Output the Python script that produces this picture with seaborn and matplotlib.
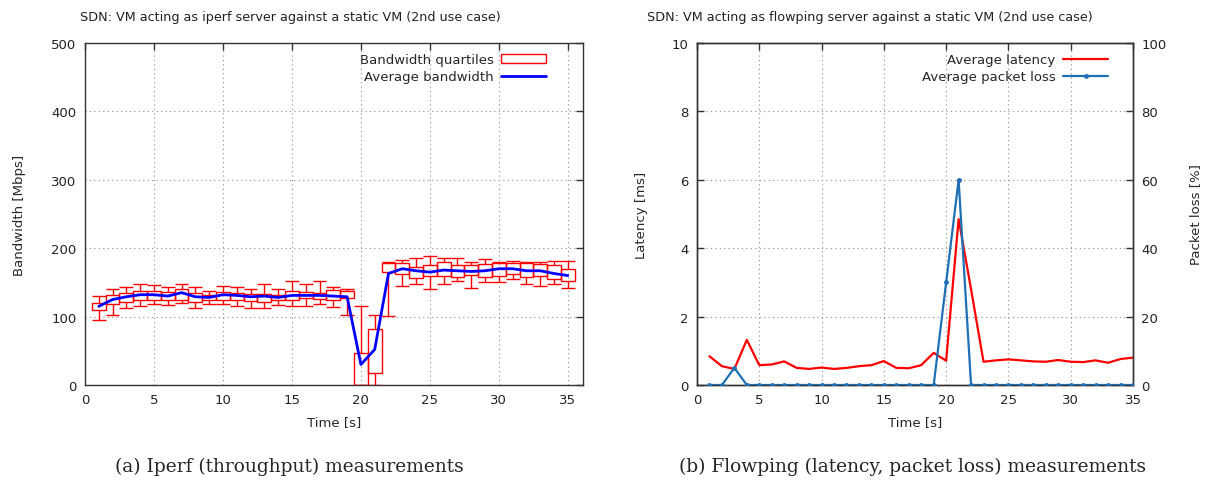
#---------------------------------------------------------------------#
# SDN use case 2: iperf bandwidth + flowping latency / packet loss
#---------------------------------------------------------------------#
import matplotlib
matplotlib.use("Agg")
import matplotlib.pyplot as plt
from matplotlib.patches import Patch
from matplotlib.lines import Line2D
import seaborn as sns
import pandas as pd

# iperf: time [s], quartiles and whisker ends [Mbps], average [Mbps]
time_bw = list(range(1, 36))
bw_min = [95, 103, 112, 115, 118, 117, 120, 113, 118, 118, 115, 112, 113, 117, 115,
          115, 118, 114, 102, 0, 0, 101, 145, 147, 140, 148, 152, 142, 150, 150,
          155, 148, 145, 148, 142]
bw_q1 = [110, 118, 122, 125, 125, 124, 125, 122, 124, 125, 124, 123, 122, 124, 125,
         127, 126, 124, 127, 0, 18, 165, 162, 157, 160, 160, 158, 161, 158, 160,
         162, 158, 160, 155, 152]
bw_q3 = [120, 132, 135, 138, 138, 136, 140, 135, 132, 136, 135, 133, 133, 132, 137,
         136, 135, 139, 137, 47, 82, 178, 178, 172, 176, 180, 176, 175, 177, 178,
         178, 178, 177, 175, 170]
bw_max = [130, 140, 143, 147, 146, 143, 148, 143, 138, 145, 143, 140, 147, 140, 152,
          148, 152, 143, 141, 115, 102, 180, 183, 186, 189, 186, 186, 180, 184, 180,
          182, 180, 180, 182, 182]
bw_avg = [115, 125, 129, 132, 132, 130, 135, 129, 128, 132, 131, 129, 130, 128, 131,
          131, 131, 130, 129, 30, 52, 163, 170, 167, 165, 168, 167, 166, 167, 170,
          170, 167, 167, 163, 160]

# flowping: time [s], average latency [ms], packet loss [%]
time_fp = list(range(1, 36))
latency = [0.84, 0.55, 0.47, 1.32, 0.58, 0.60, 0.69, 0.50, 0.47, 0.51, 0.47, 0.50,
           0.55, 0.58, 0.70, 0.50, 0.49, 0.58, 0.94, 0.71, 4.85, 2.80, 0.68, 0.72,
           0.75, 0.72, 0.69, 0.68, 0.73, 0.68, 0.67, 0.72, 0.65, 0.76, 0.80]
loss = [0, 0, 5, 0, 0, 0, 0, 0, 0, 0, 0, 0, 0, 0, 0, 0, 0, 0, 0, 30, 60, 0, 0, 0,
        0, 0, 0, 0, 0, 0, 0, 0, 0, 0, 0]

bw = pd.DataFrame({"time": time_bw, "min": bw_min, "q1": bw_q1, "q3": bw_q3,
                   "max": bw_max, "avg": bw_avg})
fp = pd.DataFrame({"time": time_fp, "latency": latency, "loss": loss})

sns.set_style("white")
plt.rcParams["font.family"] = ["DejaVu Sans"]
FS = 9.5
border = "#333333"
grid_kw = dict(color="#8c8c8c", linestyle=(0, (1, 3)), linewidth=0.8)

W, H = 1207, 481
fig = plt.figure(figsize=(W / 100, H / 100), dpi=100)
ax1 = fig.add_axes([85 / W, 1 - 386 / H, (583 - 85) / W, (386 - 44) / H])
ax2 = fig.add_axes([697 / W, 1 - 386 / H, (1133 - 697) / W, (386 - 44) / H])
ax3 = ax2.twinx()

def style_axis(ax):
    for s in ax.spines.values():
        s.set_color(border)
        s.set_linewidth(1.0)
    ax.tick_params(direction="in", length=5, width=1, color=border,
                   labelsize=FS, labelcolor="#222222", pad=6)

# ---- left: iperf bandwidth ----
red = "#ff0000"
ax1.bar(bw["time"], bw["q3"] - bw["q1"], bottom=bw["q1"], width=1.0,
        fill=False, edgecolor=red, linewidth=1.0, zorder=3)
ax1.vlines(bw["time"], bw["min"], bw["q1"], color=red, linewidth=1.0, zorder=3)
ax1.vlines(bw["time"], bw["q3"], bw["max"], color=red, linewidth=1.0, zorder=3)
ax1.hlines(bw["min"], bw["time"] - 0.5, bw["time"] + 0.5, color=red, linewidth=1.0, zorder=3)
ax1.hlines(bw["max"], bw["time"] - 0.5, bw["time"] + 0.5, color=red, linewidth=1.0, zorder=3)
sns.lineplot(data=bw, x="time", y="avg", ax=ax1, color="#0000ff", linewidth=2.0,
             zorder=4, legend=False)
ax1.set_xlim(0, 36.1)
ax1.set_ylim(0, 500)
ax1.set_xticks(range(0, 36, 5))
ax1.set_yticks(range(0, 501, 100))
ax1.grid(True, **grid_kw)
ax1.tick_params(top=True, right=True)
style_axis(ax1)
ax1.set_xlabel("Time [s]", fontsize=FS, labelpad=6)
ax1.set_ylabel("Bandwidth [Mbps]", fontsize=FS, labelpad=18)
h1 = [Patch(facecolor="none", edgecolor=red, linewidth=1.0),
      Line2D([], [], color="#0000ff", linewidth=2.0)]
ax1.legend(h1, ["Bandwidth quartiles", "Average bandwidth"], loc="upper right",
           bbox_to_anchor=(0.95, 1.005), frameon=False, fontsize=FS, markerfirst=False,
           handlelength=3.4, handletextpad=0.6, labelspacing=0.3, borderaxespad=0.5)

# ---- right: flowping latency and packet loss ----
sns.lineplot(data=fp, x="time", y="latency", ax=ax2, color=red,
             linewidth=1.6, zorder=4, legend=False)
sns.lineplot(data=fp, x="time", y="loss", ax=ax3, color="#1f6fb4", linewidth=1.6,
             marker="o", markersize=3.5, markeredgewidth=0, zorder=3, legend=False)
ax2.set_xlim(0, 35)
ax2.set_ylim(0, 10)
ax3.set_ylim(0, 100)
ax2.set_xticks(range(0, 36, 5))
ax2.set_yticks(range(0, 11, 2))
ax3.set_yticks(range(0, 101, 20))
ax2.grid(True, **grid_kw)
ax2.tick_params(top=True)
style_axis(ax2)
style_axis(ax3)
ax2.set_xlabel("Time [s]", fontsize=FS, labelpad=6)
ax2.set_ylabel("Latency [ms]", fontsize=FS, labelpad=17)
ax3.set_ylabel("Packet loss [%]", fontsize=FS, labelpad=16)
h2 = [Line2D([], [], color=red, linewidth=1.6),
      Line2D([], [], color="#1f6fb4", linewidth=1.6, marker="o", markersize=3.5,
             markeredgewidth=0)]
ax3.legend(h2, ["Average latency", "Average packet loss"], loc="upper right",
           bbox_to_anchor=(0.97, 1.005), frameon=False, fontsize=FS, markerfirst=False,
           handlelength=3.4, handletextpad=0.6, labelspacing=0.3, borderaxespad=0.5)

# titles and sub-captions
fig.text(290 / W, 1 - 17 / H, "SDN: VM acting as iperf server against a static VM (2nd use case)",
         ha="center", va="center", fontsize=9.2, color="#222222")
fig.text(870 / W, 1 - 17 / H, "SDN: VM acting as flowping server against a static VM (2nd use case)",
         ha="center", va="center", fontsize=9.2, color="#222222")
fig.text(289 / W, 1 - 467 / H, "(a) Iperf (throughput) measurements",
         ha="center", va="center", fontsize=13.4, family="DejaVu Serif")
fig.text(913 / W, 1 - 467 / H, "(b) Flowping (latency, packet loss) measurements",
         ha="center", va="center", fontsize=13.4, family="DejaVu Serif")

fig.savefig("out.png", dpi=100, facecolor="white")
